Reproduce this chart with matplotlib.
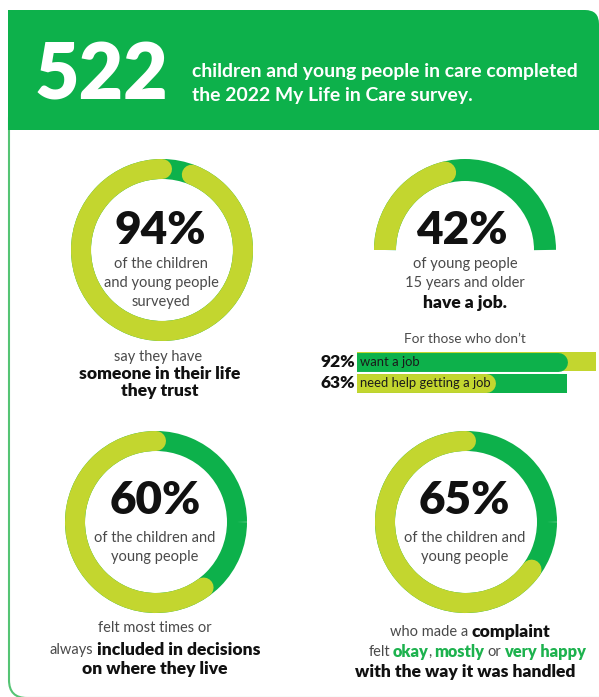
import matplotlib
matplotlib.use('Agg')
import matplotlib.pyplot as plt
from matplotlib.patches import Arc, Rectangle, FancyBboxPatch

DARK = '#0db14b'
LIGHT = '#c3d62f'
EDGE = '#55c474'
INK = '#111111'
GREY = '#4a4a4a'
HAPPY = '#1db24e'

survey_count = '522'
header_lines = ['children and young people in care completed',
                'the 2022 My Life in Care survey.']

ring_values = [94, 60, 65]          # % shown in the three full rings
gauge_value = 42                    # % shown in the half ring
bar_labels = ['want a job', 'need help getting a job']
bar_values = [92, 63]

BODY = 'Lato'
REG = 10.5     # grey body text
BOLD = 12.6    # black bold lines
BIG = 33       # percentages

fig = plt.figure(figsize=(5.99, 6.97), dpi=100)
ax = fig.add_axes([0, 0, 1, 1])
ax.set_xlim(0, 599)
ax.set_ylim(697, 0)
ax.axis('off')
rend = fig.canvas.get_renderer()

px = 72 / 100  # points per pixel


def ring(cx, cy, value, r_out=91, width=20):
    r = r_out - width / 2
    # dark track for the whole circle, light arc for the share
    ax.add_patch(Arc((cx, cy), 2 * r, 2 * r, theta1=0, theta2=360,
                     lw=width * px, color=DARK))
    start = 270 + (100 - value) * 3.6
    ax.add_patch(Arc((cx, cy), 2 * r, 2 * r, theta1=start, theta2=270,
                     lw=width * px, color=LIGHT, capstyle='round'))


def gauge(cx, cy, value, r_out=91, width=22):
    r = r_out - width / 2
    ax.add_patch(Arc((cx, cy), 2 * r, 2 * r, theta1=180, theta2=360,
                     lw=width * px, color=DARK, capstyle='butt'))
    a = Arc((cx, cy), 2 * r, 2 * r, theta1=180, theta2=180 + value * 1.8,
            lw=width * px, color=LIGHT, capstyle='round')
    ax.add_patch(a)
    clip = Rectangle((cx - r_out - 5, cy - r_out - 5), 2 * r_out + 10, r_out + 5,
                     transform=ax.transData)
    a.set_clip_path(clip)


def fit(t, width):
    # shrink/grow a text so it spans the given pixel width
    w = t.get_window_extent(renderer=rend).width
    t.set_fontsize(t.get_fontsize() * width / w)


def rich(cx, y, parts, size=BOLD, gap=3.4):
    # parts: (text, bold, colour); drawn side by side and centred on cx
    items = []
    for txt, bold, col in parts:
        t = ax.text(0, y, txt, fontsize=size if bold else REG, family=BODY, color=col,
                    fontweight='heavy' if bold else 'normal', ha='left', va='center')
        w = t.get_window_extent(renderer=rend).width
        items.append((t, w, txt))
    offs = [0]
    for _, _, txt in items[1:]:
        offs.append(-0.5 if txt.startswith(',') else gap)
    total = sum(w for _, w, _ in items) + sum(offs)
    x = cx - total / 2
    for (t, w, txt), o in zip(items, offs):
        x += o
        t.set_x(x)
        x += w


def plain(x, y, s, bold=False, size=None, **kw):
    return ax.text(x, y, s, fontsize=size or (BOLD if bold else REG), family=BODY,
                   color=INK if bold else GREY, fontweight='heavy' if bold else 'normal',
                   ha='center', va='center', **kw)


# --- frame and header ---
ax.add_patch(FancyBboxPatch((9, 100), 700, 598, boxstyle='round,pad=0,rounding_size=18',
                            fc='white', ec=EDGE, lw=1.5))
ax.add_patch(FancyBboxPatch((8, 10), 591, 120, boxstyle='round,pad=0,rounding_size=14',
                            fc=DARK, ec='none'))
ax.add_patch(Rectangle((8, 10), 40, 120, fc=DARK, ec='none'))
ax.add_patch(Rectangle((8, 100), 591, 30, fc=DARK, ec='none'))

t = ax.text(35, 100, survey_count, fontsize=60, family=BODY, fontweight='heavy',
            color='white', ha='left', va='baseline')
fit(t, 134)
t = ax.text(192, 72, header_lines[0], fontsize=13, family=BODY, fontweight='bold',
            color='white', ha='left', va='center')
fit(t, 385)
ax.text(192, 95, header_lines[1], fontsize=t.get_fontsize(), family=BODY, fontweight='bold',
        color='white', ha='left', va='center')

# --- ring 1: trust ---
ring(162, 250, ring_values[0])
plain(160, 230, f'{ring_values[0]}%', bold=True, size=BIG)
for i, line in enumerate(['of the children', 'and young people', 'surveyed']):
    plain(161, 264 + i * 19, line)
plain(158, 357, 'say they have')
plain(160, 374, 'someone in their life', bold=True)
plain(160, 391, 'they trust', bold=True)

# --- half ring: job ---
gauge(465, 250, gauge_value)
plain(462, 231, f'{gauge_value}%', bold=True, size=BIG)
for i, line in enumerate(['of young people', '15 years and older']):
    plain(465, 264 + i * 19, line)
plain(465, 303, 'have a job.', bold=True)
plain(465, 339, "For those who don\u2019t", size=9.8)

# bars in their own axes, 0-100 scale
bx = fig.add_axes([357 / 599, 1 - 394 / 697, 239 / 599, 43 / 697])
bx.set_xlim(0, 100)
bx.set_ylim(1.5, -0.5)
bx.axis('off')
bar_h = 0.88
h_px = bar_h * 43 / 2
cap = (h_px / 2) / (239 / 100)
# first bar: light track, dark share; second: dark track, light share of it
bx.barh(0, 100, height=bar_h, color=LIGHT)
bx.plot([0, bar_values[0] - 2 * cap], [0, 0], lw=h_px * px, color=DARK,
        solid_capstyle='round')
bx.barh(1, bar_values[0] - cap, height=bar_h, color=DARK)
bx.plot([0, bar_values[1] * bar_values[0] / 100 - cap], [1, 1], lw=h_px * px, color=LIGHT,
        solid_capstyle='round')
for i, (lab, val) in enumerate(zip(bar_labels, bar_values)):
    bx.text(1.2, i, lab, fontsize=9.4, family=BODY, color='#1a1a1a', ha='left', va='center')
    bx.text(-0.8, i, f'{val}%', fontsize=12.5, family=BODY, fontweight='heavy', color=INK,
            ha='right', va='center', clip_on=False)

# --- ring 2: decisions ---
ring(156, 522, ring_values[1])
plain(155, 500, f'{ring_values[1]}%', bold=True, size=BIG)
for i, line in enumerate(['of the children and', 'young people']):
    plain(155, 538 + i * 19, line)
plain(155, 628, 'felt most times or')
rich(155, 650, [('always', False, GREY), ('included in decisions', True, INK)])
plain(155, 669, 'on where they live', bold=True)

# --- ring 3: complaints ---
ring(466, 522, ring_values[2])
plain(464, 500, f'{ring_values[2]}%', bold=True, size=BIG)
for i, line in enumerate(['of the children and', 'young people']):
    plain(465, 538 + i * 19, line)
rich(470, 632, [('who made a', False, GREY), ('complaint', True, INK)])
rich(477, 652, [('felt', False, GREY), ('okay', True, HAPPY), (',', False, GREY),
                ('mostly', True, HAPPY), ('or', False, GREY), ('very happy', True, HAPPY)],
     size=11.8, gap=3.0)
plain(465, 672, 'with the way it was handled', bold=True)

fig.savefig('out.png', dpi=100)
